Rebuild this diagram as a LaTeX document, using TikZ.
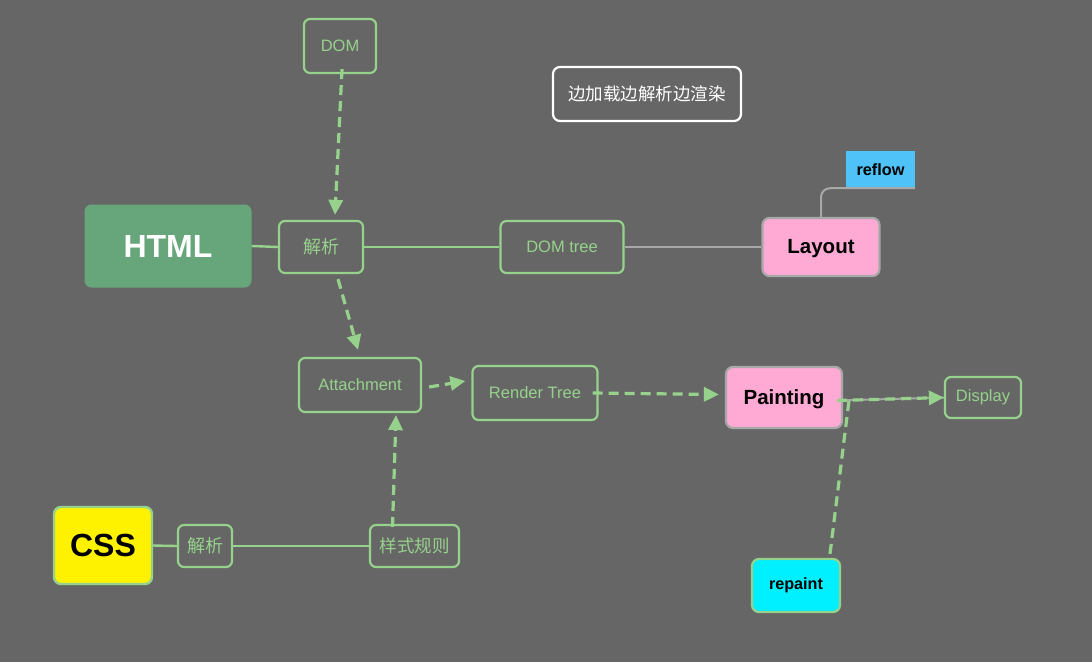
\documentclass[tikz,border=0pt]{standalone}
\usepackage{fontspec}
\setmainfont{Liberation Sans}
\newfontfamily\cjk{Noto Sans CJK SC}
\usetikzlibrary{arrows.meta}
\definecolor{bg}{HTML}{666666}
\definecolor{lgreen}{HTML}{96D28C}
\definecolor{htmlgreen}{HTML}{67A67B}
\definecolor{pinkfill}{HTML}{FFAAD5}
\definecolor{grayline}{HTML}{A8A8A8}
\definecolor{blueflow}{HTML}{4FC3F7}
\definecolor{cyanfill}{HTML}{00F0FF}
\tikzset{
  box/.style={draw=lgreen, line width=2.2pt, rounded corners=6pt, text=lgreen, inner sep=0pt, font=\fontsize{16.5}{19}\selectfont},
  bigbox/.style={rounded corners=7pt, inner sep=0pt, font=\bfseries\fontsize{32}{36}\selectfont},
  pinkbox/.style={draw=grayline, fill=pinkfill, line width=2.2pt, rounded corners=7pt, inner sep=0pt, text=black, font=\bfseries\fontsize{20.5}{23}\selectfont},
  sline/.style={lgreen, line width=2.4pt},
  gline/.style={grayline, line width=2pt},
  dline/.style={lgreen, line width=3.2pt, dash pattern=on 10pt off 6pt},
  darrow/.style={dline, -{Triangle[length=15pt,width=14pt,sep=0pt]}},
}
\begin{document}
\begin{tikzpicture}[x=1pt,y=-1pt]
\fill[bg] (0,0) rectangle (1092,662);
\useasboundingbox (0,0) rectangle (1092,662);

% nodes
\node[box, minimum width=72pt, minimum height=54pt] (dom) at (340,46) {DOM};
\node[draw=white, line width=2.2pt, rounded corners=7pt, text=white, inner sep=0pt, minimum width=188pt, minimum height=54pt, font=\cjk\fontsize{17.5}{20}\selectfont] (note) at (647,94) {边加载边解析边渲染};
\node[bigbox, fill=htmlgreen, text=white, minimum width=167pt, minimum height=83pt] (html) at (168,246) {HTML};
\node[box, minimum width=84pt, minimum height=52pt, font=\cjk\fontsize{18}{20}\selectfont] (p1) at (321,247) {解析};
\node[box, minimum width=123pt, minimum height=52pt] (domtree) at (562,247) {DOM tree};
\node[pinkbox, minimum width=117pt, minimum height=58pt, text depth=0.1em] (layout) at (821,247) {Layout};
\node[fill=blueflow, inner sep=0pt, minimum width=69pt, minimum height=37pt, text=black, font=\bfseries\fontsize{16.3}{18}\selectfont] (reflow) at (880.5,169.5) {reflow};
\node[box, minimum width=122pt, minimum height=54pt] (att) at (360,385) {Attachment};
\node[box, minimum width=125pt, minimum height=54pt] (rt) at (535,393) {Render Tree};
\node[pinkbox, minimum width=116pt, minimum height=61pt, text depth=0.1em] (paint) at (784,397.5) {Painting};
\node[box, minimum width=76pt, minimum height=41pt] (disp) at (983,397.5) {Display};
\node[bigbox, draw=lgreen, line width=2.4pt, fill=yellow, text=black, minimum width=98pt, minimum height=77pt] (css) at (103,545.5) {CSS};
\node[box, minimum width=54pt, minimum height=42pt, font=\cjk\fontsize{18}{20}\selectfont] (p2) at (205,546) {解析};
\node[box, minimum width=89pt, minimum height=42pt, font=\cjk\fontsize{17.5}{20}\selectfont] (rules) at (414.5,546) {样式规则};
\node[draw=lgreen, line width=2.2pt, fill=cyanfill, rounded corners=7pt, inner sep=0pt, minimum width=88pt, minimum height=53pt, text=black, font=\bfseries\fontsize{16.2}{18}\selectfont] (repaint) at (796,585.5) {repaint};

% solid connectors
\draw[sline] (html.east) -- (p1.west);
\draw[sline] (p1.east) -- (domtree.west);
\draw[gline] (domtree.east) -- (layout.west);
\draw[gline, rounded corners=9pt] (layout.north) |- (reflow.south east);
\draw[sline] (css.east) -- (p2.west);
\draw[sline] (p2.east) -- (rules.west);
\draw[gline] ([xshift=-6pt,yshift=-3pt]paint.east) -- (disp.west);

% dashed connectors
\draw[darrow] ([xshift=2pt,yshift=5pt]dom.south) -- ([xshift=14pt,yshift=5pt]p1.north);
\draw[darrow] ([xshift=17pt,yshift=-5pt]p1.south) -- ([xshift=-2pt,yshift=7pt]att.north);
\draw[darrow] ([xshift=7pt,yshift=-2pt]att.east) -- ([xshift=-6pt,yshift=12pt]rt.west);
\draw[darrow] ([xshift=-6pt]rt.east) -- ([xshift=-6pt,yshift=3pt]paint.west);
\draw[darrow] ([xshift=-6pt,yshift=-3pt]paint.east) -- (disp.west);
\draw[dline] ([xshift=34pt,yshift=4pt]repaint.north) -- ([xshift=6pt,yshift=-2pt]paint.east);
\draw[darrow] ([xshift=-22pt,yshift=-3pt]rules.north) -- ([xshift=36pt,yshift=-2pt]att.south);
\end{tikzpicture}
\end{document}
